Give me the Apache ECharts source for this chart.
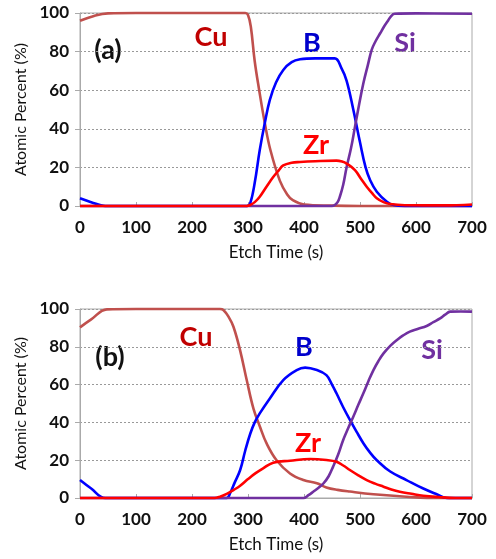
<!DOCTYPE html>
<html>
<head>
<meta charset="utf-8">
<script src="https://cdn.jsdelivr.net/npm/echarts@6/dist/echarts.min.js"></script>
<style>
  html, body { margin: 0; padding: 0; background: #fff; }
  #chart { width: 496px; height: 559px; }
</style>
</head>
<body>
<div id="chart"></div>
<script>
// panel (a)
var cuA = [[0,96],[25,98.5],[50,99.8],[100,100],[200,100],[295,100],[300,99],[305,93],[312,75],[320,60],[330,43],[340,29],[357,13],[370,6],[380,3],[400,0.8],[450,0.2],[500,0],[600,0],[700,0]];
var bA = [[0,4],[20,2],[45,0],[100,0],[200,0],[298,0],[304,1.5],[312,12],[321,29],[330,43],[339,55],[350,64],[363,70.5],[378,74.5],[393,76],[420,76.5],[455,76.5],[466,72],[476,65],[488,50],[500,33],[510,20],[518,13.5],[530,7.4],[548,2.2],[560,0.5],[580,0],[700,0]];
var zrA = [[0,0],[100,0],[200,0],[298,0],[304,0.5],[312,2],[321,4.8],[333,10],[345,15],[355,18.5],[363,21],[378,22.4],[393,22.8],[420,23.2],[458,23.5],[468,23],[476,22],[491,18.6],[502,14],[512,10],[522,6.5],[530,4],[542,2],[554,1],[580,0.4],[650,0.3],[700,0.8]];
var siA = [[0,0],[100,0],[200,0],[300,0],[400,0],[450,0],[455,0.5],[460,2],[464,4.8],[470,11],[476,20],[484,30],[491,41],[498,52],[506,63.6],[514,73],[521,81],[528,85.5],[536,89.5],[543,93],[550,96],[556,98.5],[562,99.6],[600,99.8],[700,99.6]];

// panel (b)
var cuB = [[0,90.3],[20,94.5],[48,99.8],[100,100],[200,100],[250,100],[256,99.5],[265,96],[274,90.6],[286,78],[298,62],[310,47],[321,38],[333,29],[351,20],[375,13],[399,9.5],[423,7.8],[440,5.6],[460,4.3],[482,3.4],[524,2],[583,0.7],[640,0],[700,0]];
var bB = [[0,9.5],[20,5],[45,0],[100,0],[200,0],[262,0],[268,2.5],[276,8],[286,14.8],[295,25],[304,34],[312,40],[321,44.8],[339,52.7],[363,62.4],[387,67.7],[402,69],[423,67.7],[440,65],[450,60],[458,55.4],[470,48],[482,41.3],[494,35],[506,29],[518,24],[530,20],[554,14],[583,9.5],[613,5],[637,2],[655,0],[700,0]];
var zrB = [[0,0],[100,0],[200,0],[240,0],[250,0.7],[262,2.2],[274,4.2],[286,6.5],[300,10],[313,13],[327,15.7],[345,18.7],[375,19.7],[411,20.6],[440,20.1],[458,19.2],[470,17.2],[482,14.8],[497,12],[512,9.5],[527,7.6],[542,6],[556,4.5],[571,3.3],[592,2.2],[613,1.2],[640,0.5],[670,0],[700,0]];
var siB = [[0,0],[100,0],[200,0],[300,0],[399,0],[408,1.5],[417,3.4],[426,5.4],[435,7.8],[444,11.5],[452,16.6],[461,23],[470,30.7],[479,37],[488,43],[497,49.3],[506,55.4],[515,61.8],[524,67.7],[533,72.5],[542,76.5],[554,80.5],[566,83.6],[577,86],[589,88],[604,89.5],[619,91],[631,93],[643,95],[652,97],[661,98.6],[680,98.7],[700,98.6]];

var colCu = '#c0504d', colB = '#0000ff', colZr = '#ff0000', colSi = '#7030a0';
var font = 'Lato, "Open Sans", sans-serif';

function xAxisCfg(idx) {
  return {
    type: 'value', gridIndex: idx, min: 0, max: 700, interval: 100,
    name: 'Etch Time (s)', nameLocation: 'middle', nameGap: 38,
    nameTextStyle: { fontFamily: font, fontSize: 17, color: '#111' },
    axisLine: { show: true, lineStyle: { color: '#aaa', width: 1 } },
    axisTick: { show: true, inside: true, length: 4, lineStyle: { color: '#aaa' } },
    axisLabel: { fontFamily: font, fontSize: 17, fontWeight: 'bold', color: '#111', margin: 13 },
    splitLine: { show: false }
  };
}
function yAxisCfg(idx) {
  return {
    type: 'value', gridIndex: idx, min: 0, max: 100, interval: 20,
    name: 'Atomic Percent (%)', nameLocation: 'middle', nameGap: 48,
    nameTextStyle: { fontFamily: font, fontSize: 16, color: '#111' },
    axisLine: { show: true, lineStyle: { color: '#aaa', width: 1 } },
    axisTick: { show: true, length: 5, lineStyle: { color: '#aaa' } },
    axisLabel: { fontFamily: font, fontSize: 17, fontWeight: 'bold', color: '#111', margin: 11 },
    splitLine: { show: true, lineStyle: { color: '#999', type: [2, 2], width: 1 } }
  };
}
function line(name, data, color, idx) {
  return {
    name: name, type: 'line', data: data, xAxisIndex: idx, yAxisIndex: idx,
    smooth: 0.4, showSymbol: false, clip: false,
    lineStyle: { color: color, width: 2.6 }
  };
}
function label(text, x, y, color) {
  return {
    type: 'text', x: x, y: y,
    style: { text: text, fill: color, font: 'bold 27px ' + font, align: 'center', verticalAlign: 'middle' }
  };
}

var chart = echarts.init(document.getElementById('chart'));
chart.setOption({
  animation: false,
  backgroundColor: '#fff',
  grid: [
    { left: 80, top: 13, width: 392, height: 193, show: true, borderColor: '#aaa', borderWidth: 1 },
    { left: 80, top: 309, width: 392, height: 189, show: true, borderColor: '#aaa', borderWidth: 1 }
  ],
  xAxis: [xAxisCfg(0), xAxisCfg(1)],
  yAxis: [yAxisCfg(0), yAxisCfg(1)],
  series: [
    line('Cu', cuA, colCu, 0), line('B', bA, colB, 0), line('Si', siA, colSi, 0), line('Zr', zrA, colZr, 0),
    line('Cu', cuB, colCu, 1), line('B', bB, colB, 1), line('Si', siB, colSi, 1), line('Zr', zrB, colZr, 1)
  ],
  graphic: [
    label('(a)', 108, 50, '#111'),
    label('Cu', 211, 37, '#c00000'),
    label('B', 312, 43, '#0000cc'),
    label('Zr', 316, 145, '#ff0000'),
    label('Si', 405, 43, '#7030a0'),
    label('(b)', 110, 357, '#111'),
    label('Cu', 196, 337, '#c00000'),
    label('B', 304, 347, '#0000cc'),
    label('Zr', 308, 443, '#ff0000'),
    label('Si', 432, 350, '#7030a0')
  ]
});
</script>
</body>
</html>
